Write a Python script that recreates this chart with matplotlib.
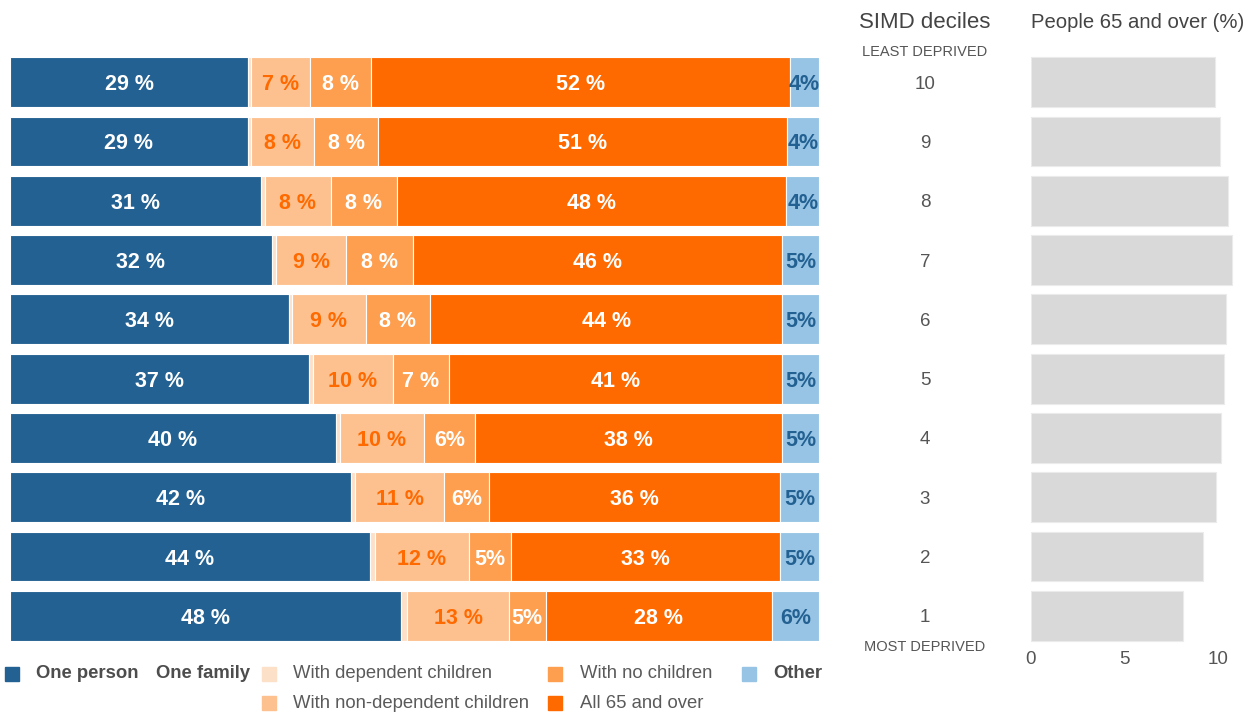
import matplotlib
matplotlib.use("Agg")
import matplotlib.pyplot as plt
import matplotlib.transforms as mtransforms
from matplotlib.patches import Rectangle

plt.rcParams['font.family'] = ['Liberation Sans', 'DejaVu Sans']

# ---- data (deciles 1 = most deprived ... 10 = least deprived) ----
deciles = [1, 2, 3, 4, 5, 6, 7, 8, 9, 10]
one_person = [48.28, 44.45, 42.13, 40.24, 36.95, 34.45, 32.34, 31.01, 29.40, 29.45]
dep_children = [0.82, 0.62, 0.53, 0.49, 0.46, 0.42, 0.53, 0.46, 0.42, 0.33]
nondep_children = [12.55, 11.65, 10.96, 10.45, 9.92, 9.06, 8.65, 8.23, 7.77, 7.29]
no_children = [4.53, 5.23, 5.60, 6.30, 6.92, 7.95, 8.24, 8.08, 7.91, 7.58]
all_65 = [27.98, 33.16, 35.92, 37.87, 41.18, 43.57, 45.59, 48.14, 50.55, 51.73]
other = [5.84, 4.89, 4.86, 4.65, 4.57, 4.55, 4.65, 4.08, 3.95, 3.62]
people_65_pct = [8.14, 9.21, 9.92, 10.19, 10.32, 10.43, 10.75, 10.54, 10.12, 9.86]
right_ticks = [0, 5, 10]

series = [
    ("One person", one_person, "#236192", "white"),
    ("With dependent children", dep_children, "#FDE0C8", None),
    ("With non-dependent children", nondep_children, "#FDC190", "#FF6A00"),
    ("With no children", no_children, "#FD9F4F", "white"),
    ("All 65 and over", all_65, "#FF6A00", "white"),
    ("Other", other, "#97C4E4", "#236192"),
]

W, H = 1253, 715
fig = plt.figure(figsize=(W / 100, H / 100), dpi=100)

ax_bottom = 0.0972
ax_height = 0.8294
ax = fig.add_axes([10 / W, ax_bottom, 809.3 / W, ax_height])
ypos = [d - 1 for d in deciles]
left = [0.0] * len(deciles)
for name, vals, color, tcolor in series:
    ax.barh(ypos, vals, left=left, height=0.84, color=color,
            edgecolor="white", linewidth=0.8)
    if tcolor is not None:
        for y, l, v in zip(ypos, left, vals):
            lab = f"{v:.0f} %" if v >= 6.5 else f"{v:.0f}%"
            ax.text(l + v / 2, y, lab, ha="center", va="center_baseline",
                    color=tcolor, fontsize=15.5, fontweight="bold")
    left = [a + b for a, b in zip(left, vals)]
ax.set_xlim(0, 100)
ax.set_ylim(-0.5, 9.5)
ax.axis("off")

# ---- right panel ----
ax2 = fig.add_axes([1031 / W, ax_bottom, 214.7 / W, ax_height])
ax2.barh(ypos, people_65_pct, height=0.84, color="#D9D9D9",
         edgecolor="#EBEBEB", linewidth=0.8)
ax2.set_xlim(0, 11.5)
ax2.set_ylim(-0.5, 9.5)
for s in ax2.spines.values():
    s.set_visible(False)
ax2.set_yticks([])
ax2.set_xticks(right_ticks)
ax2.set_xticklabels([str(t) for t in right_ticks])
ax2.tick_params(axis="x", length=0, pad=4, labelsize=13.5, labelcolor="#555555")

# ---- decile labels ----
trans = mtransforms.blended_transform_factory(fig.transFigure, ax.transData)
xc = 925 / W
for y, d in zip(ypos, deciles):
    ax.text(xc, y, str(d), transform=trans, ha="center", va="center_baseline",
            fontsize=13.5, color="#555555")
ax.text(xc, 9.5, "LEAST DEPRIVED", transform=trans, ha="center", va="center",
        fontsize=10.5, color="#555555")
ax.text(xc, -0.52, "MOST DEPRIVED", transform=trans, ha="center", va="center",
        fontsize=10.5, color="#555555")

# ---- titles ----
fig.text(xc, 1 - 22 / H, "SIMD deciles", ha="center", va="center",
         fontsize=16, color="#444444")
fig.text(1031 / W, 1 - 22 / H, "People 65 and over (%)", ha="left", va="center",
         fontsize=14.6, color="#444444")

# ---- legend (manual) ----
def square(x, ycen, color):
    s = 14
    fig.patches.append(Rectangle((x / W, (H - ycen - s / 2) / H), s / W, s / H,
                                 transform=fig.transFigure, color=color))

def ltext(x, ycen, txt, bold=False):
    fig.text(x / W, 1 - ycen / H, txt, ha="left", va="center", fontsize=13.3,
             color="#4D4D4D" if bold else "#5A5A5A",
             fontweight="bold" if bold else "normal")

r1, r2 = 674, 703
square(5, r1, series[0][2]); ltext(36, r1, "One person", True)
ltext(156, r1, "One family", True)
square(262, r1, series[1][2]); ltext(293, r1, "With dependent children")
square(262, r2, series[2][2]); ltext(293, r2, "With non-dependent children")
square(548, r1, series[3][2]); ltext(580, r1, "With no children")
square(548, r2, series[4][2]); ltext(580, r2, "All 65 and over")
square(742, r1, series[5][2]); ltext(773, r1, "Other", True)

fig.savefig("out.png", dpi=100, facecolor="white")
